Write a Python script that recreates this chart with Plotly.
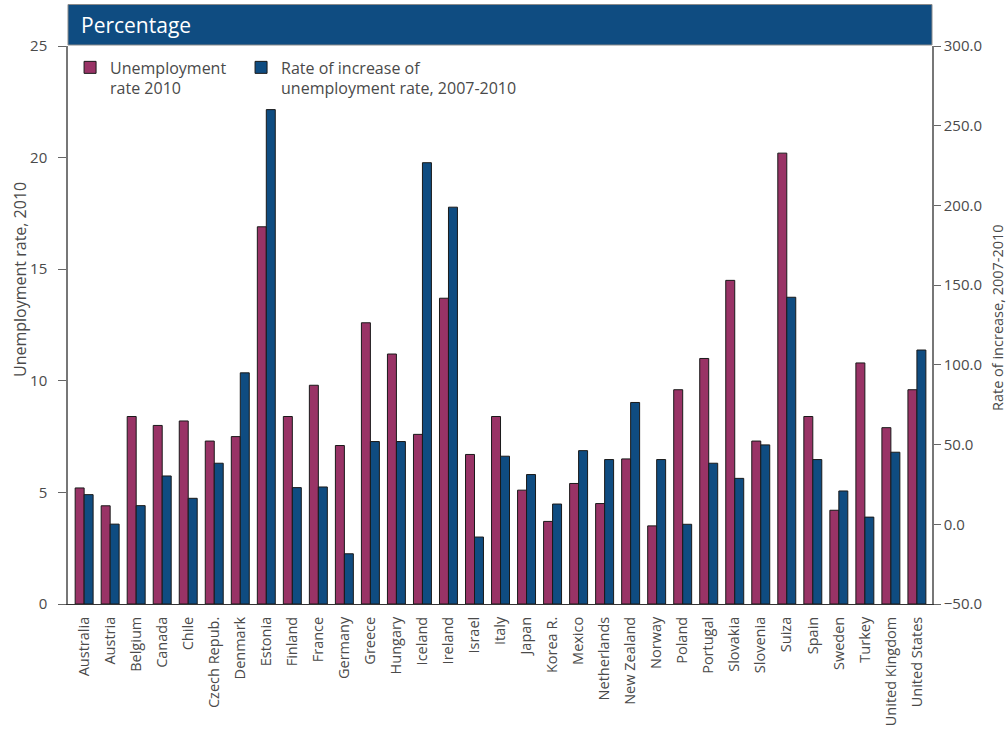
import plotly.graph_objects as go

countries = ["Australia", "Austria", "Belgium", "Canada", "Chile", "Czech Repub.", "Denmark",
             "Estonia", "Finland", "France", "Germany", "Greece", "Hungary", "Iceland", "Ireland",
             "Israel", "Italy", "Japan", "Korea R.", "Mexico", "Netherlands", "New Zealand",
             "Norway", "Poland", "Portugal", "Slovakia", "Slovenia", "Suiza", "Spain", "Sweden",
             "Turkey", "United Kingdom", "United States"]

unemployment_2010 = [5.2, 4.4, 8.4, 8.0, 8.2, 7.3, 7.5, 16.9, 8.4, 9.8, 7.1, 12.6, 11.2, 7.6, 13.7,
                     6.7, 8.4, 5.1, 3.7, 5.4, 4.5, 6.5, 3.5, 9.6, 11.0, 14.5, 7.3, 20.2, 8.4, 4.2,
                     10.8, 7.9, 9.6]

increase_2007_2010 = [18.6, 0.1, 11.7, 30.3, 16.3, 38.3, 95.0, 260.1, 23.0, 23.4, -18.5, 51.9, 51.9,
                      226.8, 198.9, -8.0, 42.7, 31.2, 12.7, 46.2, 40.6, 76.4, 40.6, 0.0, 38.3, 28.8,
                      49.8, 142.4, 40.6, 20.9, 4.5, 45.2, 109.3]

left_ticks = [0, 5, 10, 15, 20, 25]
right_ticks = [-50, 0, 50, 100, 150, 200, 250, 300]

RED = "#993366"
BLUE = "#0f4c81"
TXT = "#4a4a4a"
FONT = "Open Sans"
RIGHT_BASE = -50

fig = go.Figure()
fig.add_trace(go.Bar(
    x=countries, y=unemployment_2010, name="Unemployment<br>rate 2010",
    marker=dict(color=RED, line=dict(color="#1a1a1a", width=1)),
    offsetgroup="a", yaxis="y", legend="legend",
))
fig.add_trace(go.Bar(
    x=countries, y=[v - RIGHT_BASE for v in increase_2007_2010], base=RIGHT_BASE,
    name="Rate of increase of<br>unemployment rate, 2007-2010",
    customdata=increase_2007_2010, hovertemplate="%{x}: %{customdata}<extra></extra>",
    marker=dict(color=BLUE, line=dict(color="#1a1a1a", width=1)),
    offsetgroup="b", yaxis="y2", legend="legend2",
))

H = 558.0
PW = 864.0
legend_common = dict(orientation="h", xanchor="left", yanchor="top",
                     font=dict(size=16, color=TXT), valign="top",
                     bgcolor="rgba(0,0,0,0)")
fig.update_layout(
    width=1008, height=740,
    margin=dict(l=68, r=76, t=46, b=136),
    paper_bgcolor="white", plot_bgcolor="white",
    font=dict(family=FONT, color=TXT, size=15),
    barmode="group", bargap=0.31, bargroupgap=0,
    showlegend=True,
    legend=dict(x=0.0024, y=0.992, **legend_common),
    legend2=dict(x=0.2003, y=0.992, **legend_common),
    xaxis=dict(range=[-0.62, 32.58], tickangle=-90, showline=True, linecolor="#333333",
               linewidth=1, ticks="", tickfont=dict(size=14.5, color=TXT),
               ticklabelstandoff=6, showgrid=False, zeroline=False, fixedrange=True),
    yaxis=dict(range=[0, 25], tickvals=left_ticks, showline=True, linecolor="#777777",
               linewidth=1.5, ticks="outside", ticklen=8, tickcolor="#666666",
               tickfont=dict(size=15, color=TXT), ticklabelstandoff=8,
               showgrid=False, zeroline=False),
    yaxis2=dict(range=[-50, 300], tickvals=right_ticks, tickformat=".1f", overlaying="y",
                side="right", showline=True, linecolor="#777777", linewidth=1.5,
                ticks="outside", ticklen=7, tickcolor="#666666",
                tickfont=dict(size=15, color=TXT), showgrid=False, zeroline=False),
    shapes=[dict(type="rect", xref="paper", yref="paper", x0=0, x1=1,
                 y0=1 + 1 / H, y1=1 + 41.5 / H, fillcolor=BLUE,
                 line=dict(color="#8a8a8a", width=1), layer="above")],
    annotations=[
        dict(text="Percentage", xref="paper", yref="paper", x=0, y=1 + 21 / H,
             xanchor="left", yanchor="middle", xshift=11, showarrow=False,
             font=dict(size=21, color="white", family=FONT)),
        dict(text="Unemployment rate, 2010", xref="paper", yref="paper",
             x=(20 - 68) / PW, y=1 - (280 - 46) / H, textangle=-90,
             xanchor="center", yanchor="middle", showarrow=False,
             font=dict(size=16, color=TXT, family=FONT)),
        dict(text="Rate of increase, 2007-2010", xref="paper", yref="paper",
             x=(998 - 68) / PW, y=1 - (318 - 46) / H, textangle=-90,
             xanchor="center", yanchor="middle", showarrow=False,
             font=dict(size=14.5, color=TXT, family=FONT)),
    ],
)

fig.write_html("out.html",
               config={"displayModeBar": False},
               post_script="document.body.style.margin='0';document.body.style.overflow='hidden';")
